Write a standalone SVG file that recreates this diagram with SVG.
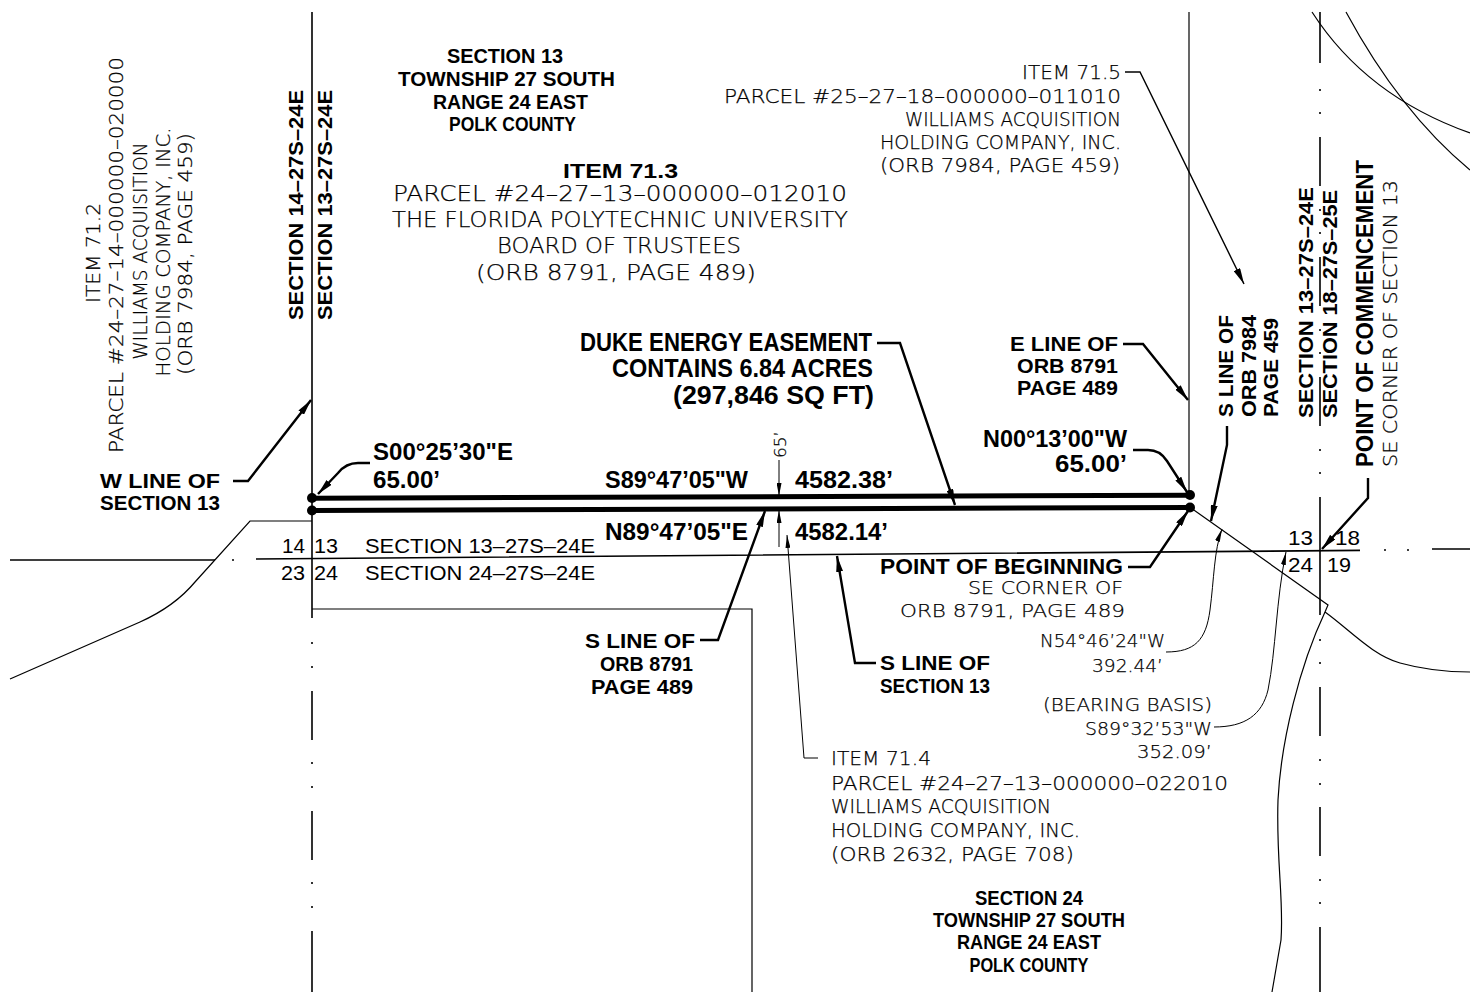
<svg xmlns="http://www.w3.org/2000/svg" width="1470" height="992" viewBox="0 0 1470 992">
<defs>
<style>
.bg{fill:#fff}
.ln{fill:none;stroke:#000;stroke-width:1.2}
.sec{fill:none;stroke:#000;stroke-width:1.6}
.ease{fill:none;stroke:#000;stroke-width:5}
.ldr{fill:none;stroke:#000;stroke-width:2.4}
.ldt{fill:none;stroke:#000;stroke-width:1}
.dot{fill:#000}
.b{font-family:"Liberation Sans",Arial,sans-serif;font-weight:bold;fill:#000}
.m{font-family:"Liberation Sans",Arial,sans-serif;font-weight:normal;fill:#000}
.t{font-family:"DejaVu Sans","Liberation Sans",sans-serif;font-weight:200;fill:#000;stroke:#000;stroke-width:0.25}
</style>
<marker id="ab" viewBox="0 0 16 7" refX="16" refY="3.5" markerWidth="16" markerHeight="7" markerUnits="userSpaceOnUse" orient="auto"><path d="M0,0 L16,3.5 L0,7 z" fill="#000"/></marker>
<marker id="at" viewBox="0 0 13 5" refX="13" refY="2.5" markerWidth="13" markerHeight="5" markerUnits="userSpaceOnUse" orient="auto"><path d="M0,0 L13,2.5 L0,5 z" fill="#000"/></marker>
</defs>
<rect class="bg" x="0" y="0" width="1470" height="992"/>

<g id="linework">
  <path class="sec" d="M10,560 L215,560 M256,559 L1360,550.4 M1432,549 L1470,549"/>
  <path class="sec" d="M232,560 h2 M1384,550 h2 M1407,550 h2"/>
  <path class="sec" d="M312,12 L312,618 M312,691 V740 M312,811 V860 M312,931 V992"/>
  <path class="sec" d="M312,642 v2 M312,666 v2 M312,762 v2 M312,786 v2 M312,882 v2 M312,906 v2"/>
  <path class="sec" d="M1320,12 V63 M1320,137 V186 M1320,257 V306 M1320,377 V426 M1320,497 V615 M1320,687 V736 M1320,807 V856 M1320,927 V992"/>
  <path class="sec" d="M1320,89 v2 M1320,112 v2 M1320,209 v2 M1320,232 v2 M1320,329 v2 M1320,352 v2 M1320,449 v2 M1320,472 v2 M1320,639 v2 M1320,662 v2 M1320,759 v2 M1320,783 v2 M1320,879 v2 M1320,902 v2"/>
  <path class="ln" d="M10,679 L140,622 C160,613 180,600 195,582 L250,521 L312,521"/>
  <path class="ln" d="M312,609 L752,609 L752,992"/>
  <path class="ln" d="M1189,12 L1189,495"/>
  <path class="ln" d="M1191,508 L1328,605 L1325,612"/>
  <path class="ln" d="M1325,612 C1350,630 1372,655 1400,663 C1425,670 1445,672 1470,672"/>
  <path class="ln" d="M1325,612 C1300,665 1281,740 1278,800 C1276,860 1284,900 1281,940 L1272,992"/>
  <path class="ln" d="M1312,12 Q1366,96 1470,133"/>
  <path class="ln" d="M1346,12 Q1400,112 1470,170"/>
</g>

<g id="easement">
  <path class="ease" d="M312,498.3 L1190,495.2"/>
  <path class="ease" d="M312,510.5 L1190,507.4"/>
  <circle class="dot" cx="312" cy="498" r="5"/>
  <circle class="dot" cx="312" cy="510.5" r="5"/>
  <circle class="dot" cx="1190" cy="495" r="5"/>
  <circle class="dot" cx="1190" cy="507.5" r="5"/>
</g>

<g id="connectors">
  <path class="ldr" d="M233,481 L248,481 L311,400" marker-end="url(#ab)"/>
  <path class="ldr" d="M370,463 L358,463 Q346,463 338,473 L318,494" marker-end="url(#ab)"/>
  <path class="ldr" d="M877,343 L900,343 L955,505" marker-end="url(#ab)"/>
  <path class="ldr" d="M1123,344 L1143,344 L1188,400" marker-end="url(#ab)"/>
  <path class="ldr" d="M1133,450 L1148,450 Q1160,450 1167,461 L1187,492" marker-end="url(#ab)"/>
  <path class="ldr" d="M700,640 L718,640 L765,511" marker-end="url(#ab)"/>
  <path class="ldr" d="M876,663 L855,663 L837,556" marker-end="url(#ab)"/>
  <path class="ldr" d="M1128,567 L1150,567 L1188,511" marker-end="url(#ab)"/>
  <path class="ldr" d="M1227,426 L1227,445 L1211,521" marker-end="url(#ab)"/>
  <path class="ldr" d="M1368,478 L1368,498 L1322,549" marker-end="url(#ab)"/>
  <path class="ldt" style="stroke-width:1.4" d="M1125,72 L1140,72 L1244,284" marker-end="url(#ab)"/>
  <path class="ldt" d="M818,758 L804,758 L787,535" marker-end="url(#at)"/>
  <path class="ldt" d="M1166,652 C1195,652 1206,640 1210,610 C1214,580 1214,550 1222,529" marker-end="url(#at)"/>
  <path class="ldt" d="M1214,727 C1245,727 1262,715 1268,690 C1276,650 1276,600 1286,552" marker-end="url(#at)"/>
  <path class="ldt" d="M779,460 L779,496" marker-end="url(#at)"/>
  <path class="ldt" d="M779,547 L779,510" marker-end="url(#at)"/>
</g>

<g id="sec13-label">
  <text class="b" x="447" y="63" font-size="21" textLength="116" lengthAdjust="spacingAndGlyphs">SECTION 13</text>
  <text class="b" x="398" y="86" font-size="21" textLength="217" lengthAdjust="spacingAndGlyphs">TOWNSHIP 27 SOUTH</text>
  <text class="b" x="433" y="109" font-size="21" textLength="155" lengthAdjust="spacingAndGlyphs">RANGE 24 EAST</text>
  <text class="b" x="449" y="131" font-size="21" textLength="127" lengthAdjust="spacingAndGlyphs">POLK COUNTY</text>
</g>

<g id="item-71-3">
  <text class="b" x="563" y="178" font-size="21" textLength="115" lengthAdjust="spacingAndGlyphs">ITEM 71.3</text>
  <text class="t" x="393" y="201" font-size="21" textLength="454" lengthAdjust="spacingAndGlyphs">PARCEL #24–27–13–000000–012010</text>
  <text class="t" x="392" y="227" font-size="21" textLength="456" lengthAdjust="spacingAndGlyphs">THE FLORIDA POLYTECHNIC UNIVERSITY</text>
  <text class="t" x="497" y="253" font-size="21" textLength="244" lengthAdjust="spacingAndGlyphs">BOARD OF TRUSTEES</text>
  <text class="t" x="476" y="280" font-size="21" textLength="280" lengthAdjust="spacingAndGlyphs">(ORB 8791, PAGE 489)</text>
</g>

<g id="item-71-5">
  <text class="t" x="1022" y="79" font-size="19" textLength="99" lengthAdjust="spacingAndGlyphs">ITEM 71.5</text>
  <text class="t" x="724" y="103" font-size="19" textLength="397" lengthAdjust="spacingAndGlyphs">PARCEL #25–27–18–000000–011010</text>
  <text class="t" x="905" y="126" font-size="19" textLength="216" lengthAdjust="spacingAndGlyphs">WILLIAMS ACQUISITION</text>
  <text class="t" x="880" y="149" font-size="19" textLength="241" lengthAdjust="spacingAndGlyphs">HOLDING COMPANY, INC.</text>
  <text class="t" x="880" y="172" font-size="19" textLength="240" lengthAdjust="spacingAndGlyphs">(ORB 7984, PAGE 459)</text>
</g>

<g id="item-71-2">
  <text class="t" transform="translate(100,253) rotate(-90)" text-anchor="middle" font-size="19" textLength="100" lengthAdjust="spacingAndGlyphs">ITEM 71.2</text>
  <text class="t" transform="translate(123,255) rotate(-90)" text-anchor="middle" font-size="19" textLength="396" lengthAdjust="spacingAndGlyphs">PARCEL #24–27–14–000000–020000</text>
  <text class="t" transform="translate(147,251) rotate(-90)" text-anchor="middle" font-size="19" textLength="217" lengthAdjust="spacingAndGlyphs">WILLIAMS ACQUISITION</text>
  <text class="t" transform="translate(170,252) rotate(-90)" text-anchor="middle" font-size="19" textLength="249" lengthAdjust="spacingAndGlyphs">HOLDING COMPANY, INC.</text>
  <text class="t" transform="translate(192,254) rotate(-90)" text-anchor="middle" font-size="19" textLength="242" lengthAdjust="spacingAndGlyphs">(ORB 7984, PAGE 459)</text>
</g>

<g id="sec-14-13-label">
  <text class="b" transform="translate(303,205) rotate(-90)" text-anchor="middle" font-size="21" textLength="230" lengthAdjust="spacingAndGlyphs">SECTION 14–27S–24E</text>
  <text class="b" transform="translate(332,205) rotate(-90)" text-anchor="middle" font-size="21" textLength="230" lengthAdjust="spacingAndGlyphs">SECTION 13–27S–24E</text>
</g>

<g id="w-line-label">
  <text class="b" x="100" y="488" font-size="21" textLength="120" lengthAdjust="spacingAndGlyphs">W LINE OF</text>
  <text class="b" x="100" y="510" font-size="21" textLength="120" lengthAdjust="spacingAndGlyphs">SECTION 13</text>
</g>

<g id="s00-label">
  <text class="b" x="373" y="460" font-size="23" textLength="140" lengthAdjust="spacingAndGlyphs">S00°25’30"E</text>
  <text class="b" x="373" y="488" font-size="23" textLength="67" lengthAdjust="spacingAndGlyphs">65.00’</text>
</g>

<g id="duke-label">
  <text class="b" x="580" y="351" font-size="25" textLength="292" lengthAdjust="spacingAndGlyphs">DUKE ENERGY EASEMENT</text>
  <text class="b" x="612" y="377" font-size="25" textLength="261" lengthAdjust="spacingAndGlyphs">CONTAINS 6.84 ACRES</text>
  <text class="b" x="673" y="404" font-size="25" textLength="201" lengthAdjust="spacingAndGlyphs">(297,846 SQ FT)</text>
</g>

<g id="dim-65">
  <text class="t" transform="translate(786,458) rotate(-90)" font-size="15" textLength="27" lengthAdjust="spacingAndGlyphs">65’</text>
</g>

<g id="north-bearing">
  <text class="b" x="605" y="488" font-size="23" textLength="143" lengthAdjust="spacingAndGlyphs">S89°47’05"W</text>
  <text class="b" x="795" y="488" font-size="23" textLength="98" lengthAdjust="spacingAndGlyphs">4582.38’</text>
</g>

<g id="south-bearing">
  <text class="b" x="605" y="540" font-size="23" textLength="143" lengthAdjust="spacingAndGlyphs">N89°47’05"E</text>
  <text class="b" x="795" y="540" font-size="23" textLength="93" lengthAdjust="spacingAndGlyphs">4582.14’</text>
</g>

<g id="n00-label">
  <text class="b" x="983" y="447" font-size="23" textLength="144" lengthAdjust="spacingAndGlyphs">N00°13’00"W</text>
  <text class="b" x="1055" y="472" font-size="23" textLength="72" lengthAdjust="spacingAndGlyphs">65.00’</text>
</g>

<g id="e-line-label">
  <text class="b" x="1010" y="351" font-size="20" textLength="108" lengthAdjust="spacingAndGlyphs">E LINE OF</text>
  <text class="b" x="1017" y="373" font-size="20" textLength="101" lengthAdjust="spacingAndGlyphs">ORB 8791</text>
  <text class="b" x="1017" y="395" font-size="20" textLength="101" lengthAdjust="spacingAndGlyphs">PAGE 489</text>
</g>

<g id="section-numbers-left">
  <text class="m" x="282" y="553" font-size="21" textLength="23" lengthAdjust="spacingAndGlyphs">14</text>
  <text class="m" x="314" y="553" font-size="21" textLength="24" lengthAdjust="spacingAndGlyphs">13</text>
  <text class="m" x="281" y="580" font-size="21" textLength="24" lengthAdjust="spacingAndGlyphs">23</text>
  <text class="m" x="314" y="580" font-size="21" textLength="24" lengthAdjust="spacingAndGlyphs">24</text>
  <text class="m" x="365" y="553" font-size="20" textLength="230" lengthAdjust="spacingAndGlyphs">SECTION 13–27S–24E</text>
  <text class="m" x="365" y="580" font-size="20" textLength="230" lengthAdjust="spacingAndGlyphs">SECTION 24–27S–24E</text>
</g>

<g id="s-line-orb8791">
  <text class="b" x="585" y="648" font-size="20" textLength="110" lengthAdjust="spacingAndGlyphs">S LINE OF</text>
  <text class="b" x="600" y="671" font-size="20" textLength="93" lengthAdjust="spacingAndGlyphs">ORB 8791</text>
  <text class="b" x="591" y="694" font-size="20" textLength="102" lengthAdjust="spacingAndGlyphs">PAGE 489</text>
</g>

<g id="s-line-sec13">
  <text class="b" x="880" y="670" font-size="20" textLength="110" lengthAdjust="spacingAndGlyphs">S LINE OF</text>
  <text class="b" x="880" y="693" font-size="20" textLength="110" lengthAdjust="spacingAndGlyphs">SECTION 13</text>
</g>

<g id="pob-label">
  <text class="b" x="880" y="574" font-size="22" textLength="243" lengthAdjust="spacingAndGlyphs">POINT OF BEGINNING</text>
  <text class="t" x="968" y="594" font-size="17" textLength="155" lengthAdjust="spacingAndGlyphs">SE CORNER OF</text>
  <text class="t" x="900" y="617" font-size="18" textLength="225" lengthAdjust="spacingAndGlyphs">ORB 8791, PAGE 489</text>
</g>

<g id="n54-label">
  <text class="t" x="1040" y="647" font-size="18" textLength="125" lengthAdjust="spacingAndGlyphs">N54°46’24"W</text>
  <text class="t" x="1092" y="672" font-size="18" textLength="71" lengthAdjust="spacingAndGlyphs">392.44’</text>
</g>

<g id="basis-label">
  <text class="t" x="1043" y="711" font-size="18" textLength="169" lengthAdjust="spacingAndGlyphs">(BEARING BASIS)</text>
  <text class="t" x="1085" y="735" font-size="18" textLength="127" lengthAdjust="spacingAndGlyphs">S89°32’53"W</text>
  <text class="t" x="1137" y="758" font-size="18" textLength="75" lengthAdjust="spacingAndGlyphs">352.09’</text>
</g>

<g id="item-71-4">
  <text class="t" x="831" y="765" font-size="19" textLength="100" lengthAdjust="spacingAndGlyphs">ITEM 71.4</text>
  <text class="t" x="831" y="790" font-size="19" textLength="397" lengthAdjust="spacingAndGlyphs">PARCEL #24–27–13–000000–022010</text>
  <text class="t" x="831" y="813" font-size="19" textLength="220" lengthAdjust="spacingAndGlyphs">WILLIAMS ACQUISITION</text>
  <text class="t" x="831" y="837" font-size="19" textLength="249" lengthAdjust="spacingAndGlyphs">HOLDING COMPANY, INC.</text>
  <text class="t" x="831" y="861" font-size="19" textLength="243" lengthAdjust="spacingAndGlyphs">(ORB 2632, PAGE 708)</text>
</g>

<g id="sec24-label">
  <text class="b" x="1029" y="905" font-size="20" text-anchor="middle" textLength="108" lengthAdjust="spacingAndGlyphs">SECTION 24</text>
  <text class="b" x="1029" y="927" font-size="20" text-anchor="middle" textLength="192" lengthAdjust="spacingAndGlyphs">TOWNSHIP 27 SOUTH</text>
  <text class="b" x="1029" y="949" font-size="20" text-anchor="middle" textLength="144" lengthAdjust="spacingAndGlyphs">RANGE 24 EAST</text>
  <text class="b" x="1029" y="972" font-size="20" text-anchor="middle" textLength="119" lengthAdjust="spacingAndGlyphs">POLK COUNTY</text>
</g>

<g id="s-line-orb7984">
  <text class="b" transform="translate(1233,417) rotate(-90)" font-size="20" textLength="102" lengthAdjust="spacingAndGlyphs">S LINE OF</text>
  <text class="b" transform="translate(1256,417) rotate(-90)" font-size="20" textLength="102" lengthAdjust="spacingAndGlyphs">ORB 7984</text>
  <text class="b" transform="translate(1278,417) rotate(-90)" font-size="20" textLength="99" lengthAdjust="spacingAndGlyphs">PAGE 459</text>
</g>

<g id="sec-13-18-label">
  <text class="b" transform="translate(1313,418) rotate(-90)" font-size="21" textLength="231" lengthAdjust="spacingAndGlyphs">SECTION 13–27S–24E</text>
  <text class="b" transform="translate(1337,418) rotate(-90)" font-size="21" textLength="228" lengthAdjust="spacingAndGlyphs">SECTION 18–27S–25E</text>
</g>

<g id="poc-label">
  <text class="b" transform="translate(1373,467) rotate(-90)" font-size="23" textLength="307" lengthAdjust="spacingAndGlyphs">POINT OF COMMENCEMENT</text>
  <text class="t" transform="translate(1397,467) rotate(-90)" font-size="20" textLength="287" lengthAdjust="spacingAndGlyphs">SE CORNER OF SECTION 13</text>
</g>

<g id="section-numbers-right">
  <text class="m" x="1288" y="545" font-size="21" textLength="25" lengthAdjust="spacingAndGlyphs">13</text>
  <text class="m" x="1335" y="545" font-size="21" textLength="25" lengthAdjust="spacingAndGlyphs">18</text>
  <text class="m" x="1288" y="572" font-size="21" textLength="25" lengthAdjust="spacingAndGlyphs">24</text>
  <text class="m" x="1327" y="572" font-size="21" textLength="24" lengthAdjust="spacingAndGlyphs">19</text>
</g>
</svg>
